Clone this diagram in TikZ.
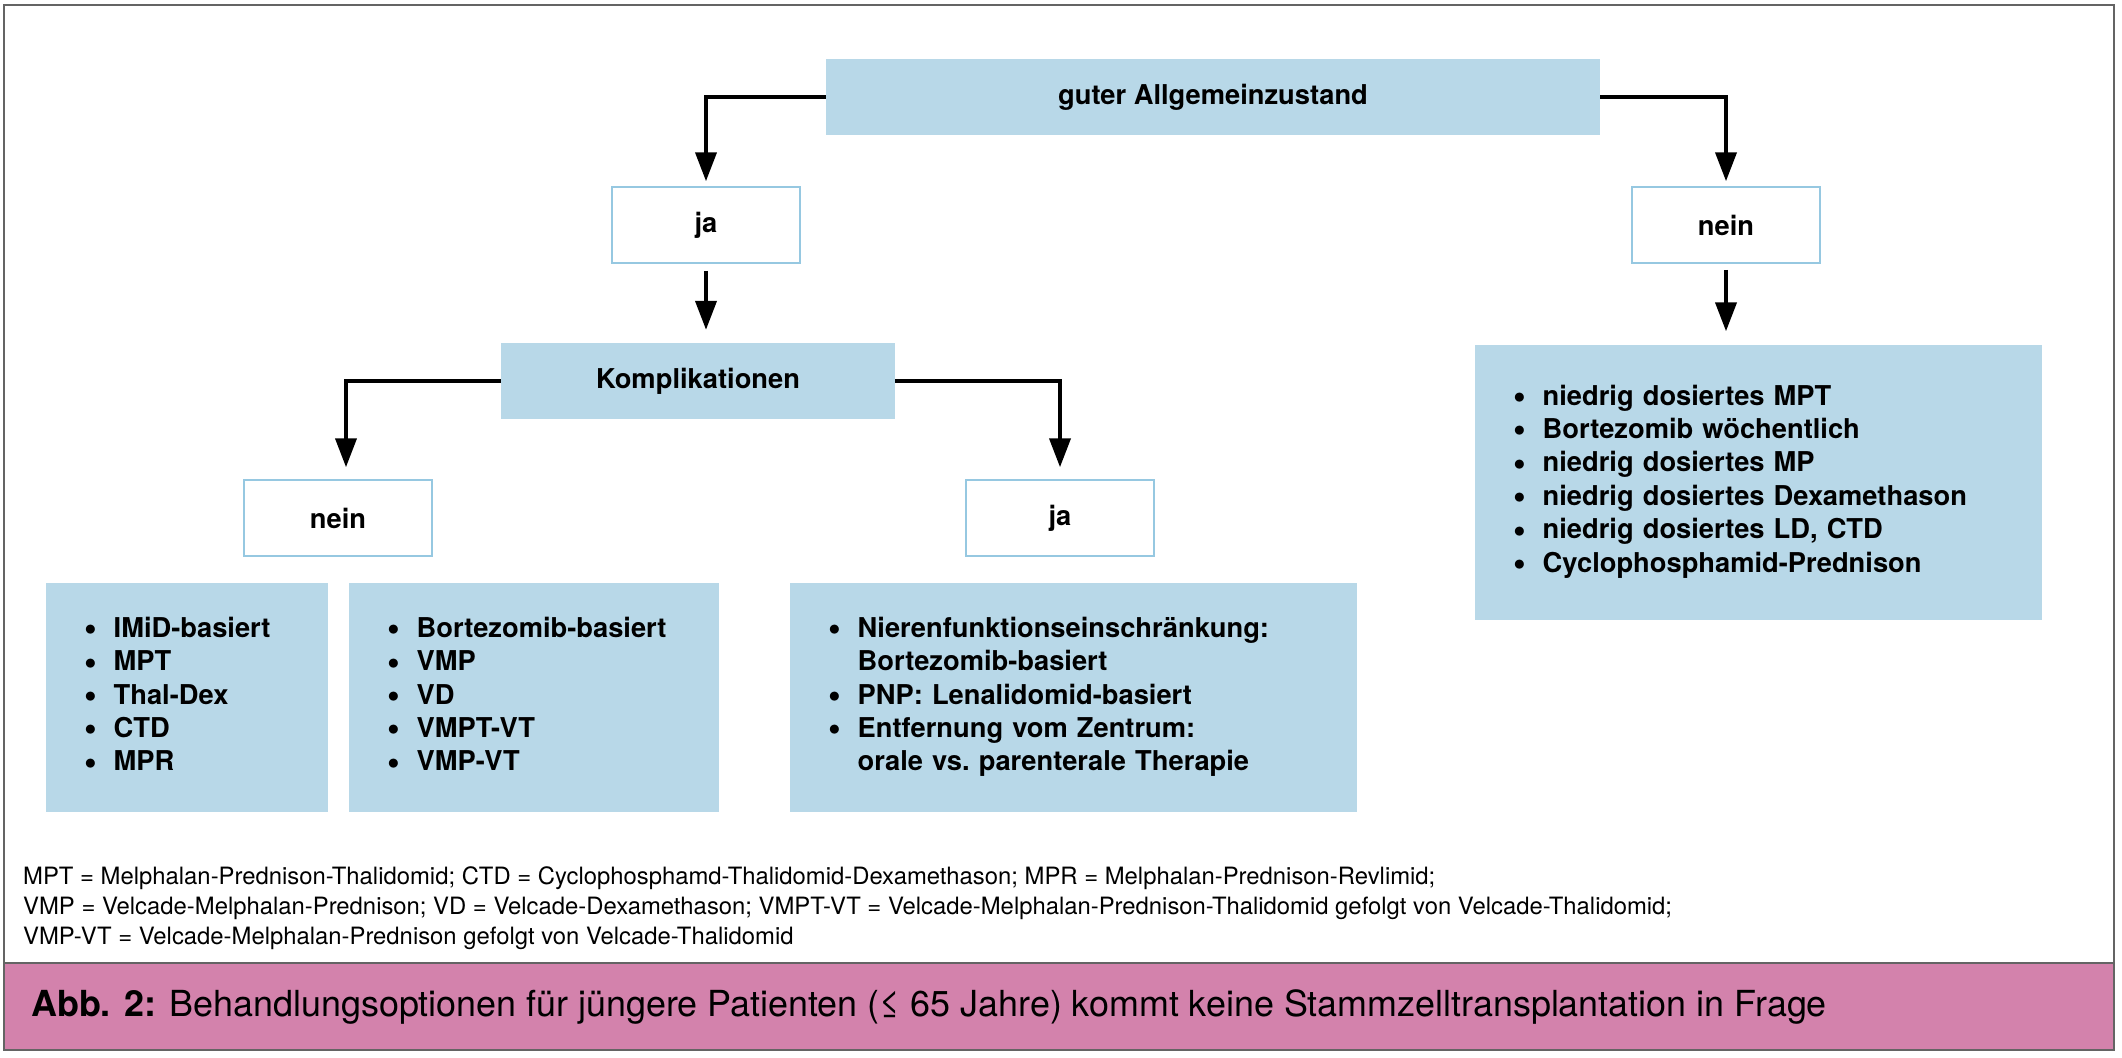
\documentclass[tikz,border=0pt]{standalone}
\usepackage{fontspec}
\setmainfont{TeX Gyre Heros}
\usetikzlibrary{arrows.meta}

\definecolor{boxblue}{RGB}{184,216,232}
\definecolor{lineblue}{RGB}{150,200,225}
\definecolor{captionpink}{RGB}{211,130,172}
\definecolor{framegray}{RGB}{100,100,100}

\newcommand{\blt}{\raisebox{-0.12em}{\scalebox{1.33}{\textbullet}}}

\begin{document}
\begin{tikzpicture}[x=1pt, y=-1pt,
	every node/.style={inner sep=0pt, font=\fontsize{27.3}{33.4}\selectfont\bfseries},
	bluebox/.style={rectangle, fill=boxblue, minimum height=76pt},
	whitebox/.style={rectangle, fill=white, draw=lineblue, line width=1.5pt, minimum width=188pt, minimum height=76pt},
	listbox/.style={rectangle, fill=boxblue, align=left, inner xsep=38pt},
	arr/.style={draw=black, line width=4pt, -{Triangle[length=29pt, width=21pt]}}]
				\useasboundingbox (0,0) rectangle (2122,1057);
				
				% frame and caption band
				\fill[captionpink] (4,963) rectangle (2114,1050);
				\draw[framegray, line width=2pt] (4,963) -- (2114,963);
				\draw[framegray, line width=2pt] (4,5) rectangle (2114,1050);
				
				\node[bluebox, minimum width=774pt] (guter) at (1213,97){guter Allgemeinzustand};
				\node[whitebox] (jatop) at (706,225){ja};
				\node[whitebox] (neinr) at (1726,225){nein};
				\node[bluebox, minimum width=394pt] (komp) at (698,381){Komplikationen};
				\node[whitebox] (neinl) at (338,518){nein};
				\node[whitebox] (jamid) at (1060,518){ja};
				
				\node[listbox, text width=491pt, minimum height=275pt] (listr) at (1758.5,482){%
					\begin{tabular}{@{}l@{\hspace{17pt}}l@{}}
					\blt & niedrig dosiertes MPT\\
					\blt & Bortezomib wöchentlich\\
					\blt & niedrig dosiertes MP\\
					\blt & niedrig dosiertes Dexamethason\\
					\blt & niedrig dosiertes LD, CTD\\
					\blt & Cyclophosphamid-Prednison
					\end{tabular}};
				\node[listbox, text width=206pt, minimum height=229pt] (imid) at (187,697.5){%
					\begin{tabular}{@{}l@{\hspace{17pt}}l@{}}
					\blt & IMiD-basiert\\
					\blt & MPT\\
					\blt & Thal-Dex\\
					\blt & CTD\\
					\blt & MPR
					\end{tabular}};
				\node[listbox, text width=294pt, minimum height=229pt] (bort) at (534,697.5){%
					\begin{tabular}{@{}l@{\hspace{17pt}}l@{}}
					\blt & Bortezomib-basiert\\
					\blt & VMP\\
					\blt & VD\\
					\blt & VMPT-VT\\
					\blt & VMP-VT
					\end{tabular}};
				\node[listbox, text width=491pt, minimum height=229pt] (nieren) at (1073.5,697.5){%
					\begin{tabular}{@{}l@{\hspace{17pt}}l@{}}
					\blt & Nierenfunktionseinschränkung:\\
					 & Bortezomib-basiert\\
					\blt & PNP: Lenalidomid-basiert\\
					\blt & Entfernung vom Zentrum:\\
					 & orale vs.\ parenterale Therapie
					\end{tabular}};
				
				\draw[arr, shorten >=5pt] (guter.west) -| (jatop.north);
				\draw[arr, shorten >=5pt] (guter.east) -| (neinr.north);
				\draw[arr, shorten <=7pt, shorten >=13pt] (jatop.south) -- (jatop.south |- komp.north);
				\draw[arr, shorten <=6pt, shorten >=13pt] (neinr.south) -- (neinr.south |- listr.north);
				\draw[arr, shorten >=12pt] (komp.west) -| ([xshift=8pt]neinl.north);
				\draw[arr, shorten >=12pt] (komp.east) -| (jamid.north);
				
				\node[anchor=west, align=left, font=\fontsize{23.85}{30}\selectfont] (legend) at (23,908){MPT = Melphalan-Prednison-Thalidomid; CTD = Cyclophosphamd-Thalidomid-Dexamethason; MPR = Melphalan-Prednison-Revlimid;\\
					VMP = Velcade-Melphalan-Prednison; VD = Velcade-Dexamethason; VMPT-VT = Velcade-Melphalan-Prednison-Thalidomid gefolgt von Velcade-Thalidomid;\\
					VMP-VT = Velcade-Melphalan-Prednison gefolgt von Velcade-Thalidomid};
				\node[anchor=west, font=\fontsize{35.9}{42}\selectfont] (caption) at (31,1007){\textbf{Abb. 2:} Behandlungsoptionen für jüngere Patienten (≤ 65 Jahre) kommt keine Stammzelltransplantation in Frage};
				\end{tikzpicture}
\end{document}
